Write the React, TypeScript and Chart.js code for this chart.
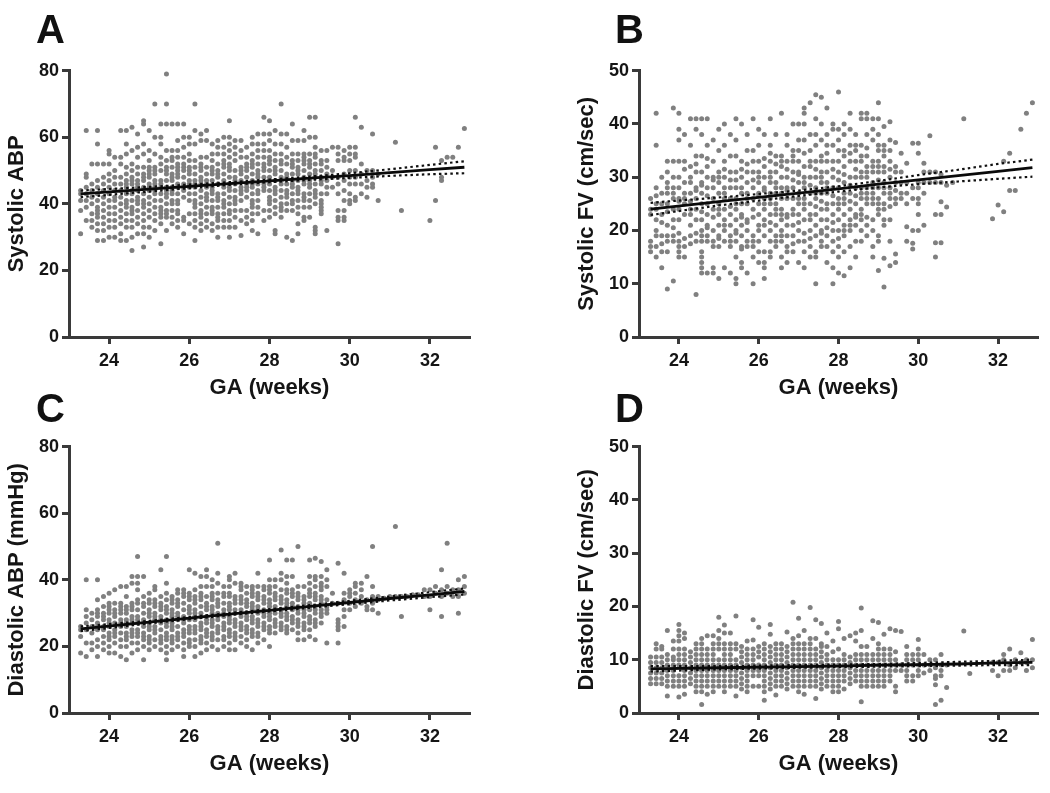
import React, { useEffect, useRef } from "react";
import { Chart, registerables } from "chart.js";

Chart.register(...registerables);

const gaColumns = [23.29,23.43,23.57,23.71,23.86,24,24.14,24.29,24.43,24.57,24.71,24.86,25,25.14,25.29,25.43,25.57,25.71,25.86,26,26.14,26.29,26.43,26.57,26.71,26.86,27,27.14,27.29,27.43,27.57,27.71,27.86,28,28.14,28.29,28.43,28.57,28.71,28.86,29,29.14,29.29,29.43,29.57,29.71,29.86,30,30.14,30.29,30.43,30.57,30.71,30.86,31,31.14,31.29,31.43,31.57,31.71,31.86,32,32.14,32.29,32.43,32.57,32.71,32.86];
const xTickValues = [24, 26, 28, 30, 32];

const sbpColumns = [
[31,38,41,43,44],[35,39,41,43,45,48,49,62],[33,35,37,40,42,44,46,52],[29,32,34,36,37,38,39,41,43,45,47,52,58,62],[29,32,34,36,38,40,42,44,46,48,52],
[30,33,35,37,39,41,43,45,47,49,52,55,56],[30,33,35,37,39,41,42,44,46,48,50,54],[29,31,34,36,38,40,42,44,46,48,52,54,62],[29,33,35,37,39,41,43,45,47,49,51,55,58,62],[26,30,33,35,37,39,41,43,44,46,48,50,52,56,63],
[31,34,36,38,40,42,44,46,47,49,51,54,57,61],[27,31,33,35,37,39,41,43,45,47,49,51,55,58,64,65],[30,33,36,38,40,42,44,46,48,50,51,53,56,62],[32,35,37,39,41,43,45,47,49,51,55,60,70],[28,34,36,38,39,41,43,45,47,50,52,54,58,60,64],
[32,36,38,40,42,44,45,47,49,51,53,56,64,70,79],[34,36,38,40,41,43,45,47,49,51,53,54,56,64],[33,35,37,38,40,43,45,46,48,50,52,54,56,59,64],[31,36,42,44,46,48,50,52,54,57,60,64],[34,37,41,43,45,47,49,51,53,55,58,60],
[29,33,35,37,39,41,43,45,47,49,51,53,58,62,70],[32,34,36,38,40,42,44,46,48,50,52,54,59,61],[33,35,37,39,41,43,45,47,49,51,54,59,62],[32,34,37,39,41,43,45,47,49,51,53,55,58],[30,33,35,37,39,41,43,46,48,50,52,55,57,59],
[33,35,37,39,41,43,45,47,49,51,53,55,57,60],[30,33,35,38,40,42,44,46,48,50,52,54,56,58,60,65],[33,36,38,40,42,44,46,48,50,53,55,57,59],[30.5,35,38,41,43,45,47,49,51,54,56,59],[34,36,38,42,44,46,48,50,52,54,57],
[32,35,37,39,41,43,45,47,49,51,53,55,58,60],[31,37,39,41,44,46,48,50,52,54,56,58,61],[35,38,44,46,48,50,52,54,56,58,61,66],[36,38,40,42,44,46,48,50,52,54,56,59,61,65],[31,32,37,39,41,43,45,47,49,51,53,55,58,62],
[36,38,40,42,44,46,48,50,53,55,58,61,70],[30,38,40,42,44,46,48,52,54,57,61],[29,38,41,43,45,47,49,51,53,55,59,64],[31,34,37,39,41,43,45,47,49,51,53,55,59],[35,36,39,41,43,46,48,50,52,54,55,59,62],
[36,39,41,43,45,47,49,51,53,55,60,66],[31,32,33,40,42,44,46,48,50,52,54,55,57,60,66],[37,38,39,41,43,46,48,50,52,53,56],[32,43,45,47,49,51,53,56],[45,48,50,57],
[28,35,36,38,43,46,48,53,55,57],[35,36,38,41,44,47,49,53,54,56],[40,41,43,46,48,50,53,55,57],[41,42,46,48,50,54,55,57,66],[43,46,49,52,63],
[42,45,47,50],[45,46,48,50,61],[41,49],[],[],[58.5],[38],[],[],[],[],[35],[41,57],[47,48,53],[54],[54],[57],[62.6],
];
const sbpExtra = [
[],[],[],[],[],[],[],[],[40,46],[38,47],
[41,45],[40,48],[45,49],[44,46,50],[37,46],
[37,43,50],[44,48],[41,49,51],[35,45,51],[46,50],
[40,46],[37,47,51],[42,46],[38,44,50],[36,42,49],
[40,46,52],[37,45,51],[41,47],[44,50],[45,51],
[40,46,52],[43,49],[45,51],[41,47,53],[44,50],
[39,47,52],[43,49],[40,46,52],[44,50],[42,47,53],
[46,52],[43,49],[40,47],
];

const fvSysColumns = [
[17,18,23,24,26],[15,17,20,22,24,25,28,36,42],[13,16,19,23,25,27,30],[9,16,18,19,21,25,27,29,31,33],[10.5,18,19,22,24,26,28,30,33,43],
[15,16,17,18,22,24,26,28,30,33,37,39,42],[15,17,23,25,27,29,33,38],[19,21,23,24,27,30,32,36,41],[8,18,22,24,26,28,31,34,39,41],[12,13,14,15,16,18,20,22,25,27,29,31,34,38,41],
[12,18,19,21,23,25,28,30,32,36,41],[12,13,18,20,24,26,28,30,33,37],[11,17,19,21,23,25,27,29,31,35,39],[13,18,20,22,24,26,28,30,33,36,40],[12,17,19,21,23,26,28,31,34,38],
[10,11,15,18,20,22,24,26,28,31,34,37,41],[13,14,17,19,21,23,25,28,30,33,40],[12,17,18,20,22,25,27,29,31,35,38],[10,15,17,19,24,26,28,31,33,41],[14,16,18,21,23,25,27,29,31,33,36,39],
[11,13,14,16,21,22,24,26,28,30,32,38],[15,16,18,20,23,25,27,29,31,33,36,41],[17,19,21,23,25,27,29,31,34,38],[13,15,18,20,22,24,26,28,30,32,34,42],[14,17,19,21,23,26,28,30,33,36,38],
[16,19,21,24,26,28,31,33,35,40],[14,18,20,23,25,27,29,31,33,37,40],[13,16,18,22,24,26,28,30,32,37,40,42,43],[15,17,20,23,25,27,30,32,35,38,44],[10,15,16,19,21,23,26,28,30,33,36,38,41,45.5],
[17,18,20,22,24,27,29,31,34,37,40,45],[14,17,19,22,25,27,29,31,33,36,38,43],[10,13,16,18,20,23,25,28,30,33,36,39,40],[12,15,17,20,22,24,26,28,31,33,37,39,46],[11.5,16,19,21,23,25,27,29,32,35,38,40],
[13,17,20,22,24,27,30,33,36,39,42],[15,18,21,23,25,28,30,33,36,38],[18,20,22,24,26,28,31,34,36,41,42],[19,21,25,26,28,30,32,34,38,41,42],[15,17,20,25,26,27,29,31,33,37,39,41],
[12.5,18,19,24,25,26,28,31,33,35,38,41,44],[9.4,14.8,21,22,25,27,29,32,34,36,39.5],[13.4,18,22,26,28,30,33,35,37,40.4],[14,15.6,26,29,31,36.5],[27,29,31,34.5],
[18,20.7,25,27,29,32.6],[16.5,17.6,20,26,28,36.4],[20,23,25,26,28,29,34.5,36.4],[21,27,29,31,32.6],[29,31,37.8],
[15,17.7,23,29,31],[17.7,23,25.4,29,30.5],[24.4,28.5],[29],[],[41],[],[],[],[],[22.2],[24.8],[23.5,33],[27.5,34.5],[27.5],[39],[42],[44],
];
const fvSysExtra = [
[16],[19,26.5],[17.5,21.5],[23.5,28],[20.5,27],
[19.5,25.5],[18.5,26,31.5],[17.5,25.5,29],[19.5,27.5,32.5],[19,23.5,28.5],
[20.5,26.5,33.5],[17,22.5,29.5],[18.5,24,30],[21,27,31.5],[18,24.5,29.5],
[19.5,25,29.5],[16.5,22.5,27,31.5],[21.5,26,32.5],[18,22.5,29.5,35],[20,26.5,30],
[19,25,27.5,33.5],[21.5,26,30,34.5],[18,24,28,32.5],[19,23,27,33],[16,22.5,27.5,31.5],
[17.5,23,29.5,34],[21.5,26,30.5,35],[19.5,25,29,34.5],[18.5,22,28.5,33],[24.5,27,31.5],
[19.5,25.5,30,33],[20.5,24,28,34.5],[21.5,26.5,31.5],[18.5,25,29.5,35],[20,26,30.5,34],
[21,25.5,28.5,34.5],[22.5,26.5,31.5,35],[23,27,30,33],[22.5,27,31,35.5],[22,28,32],
[23,29.5,32,36],[24,28,31,35],[24.5,27,31.5],[25,27.5,32],[26],
];

const dbpColumns = [
[18,23,25,26],[17,21,25,27,29,31,40],[19,21,24,26,28,30],[17,20,22,25,27,29,31,34,40],[19,21,23,26,28,30,32,35],
[18,20,22,24,26,28,30,32,33,36],[18,21,23,25,27,29,31,33,37],[17,20,22,24,26,28,30,32,33,38],[16,20,22,24,26,28,30,32,35,38],[18,21,23,25,27,29,31,33,39,41],
[19,21,23,25,27,29,31,33,37,39,41,47],[16,20,22,24,26,28,30,32,35,41],[19,21,23,25,27,29,31,33,36],[20,22,24,26,28,30,32,34,37,38],[19,21,23,25,27,29,31,33,35,43],
[16,18,20,22,24,26,28,30,32,34,36,39,47],[19,21,23,25,27,29,31,33,35],[20,22,24,26,28,30,32,34,36,37],[17,19,21,23,25,27,29,31,33,35,37],[20,22,24,26,28,30,32,34,36,43],
[17,20,22,24,26,28,30,31,33,35,37,42],[18,21,23,25,27,29,32,34,36,38,41],[19,21,23,25,27,29,31,33,35,38,41,43],[20,22,24,26,28,30,32,34,36,38,40],[19,22,24,26,28,30,32,34,36,39,42,51],
[20,23,25,27,29,31,33,36,38],[19,21,23,25,27,29,31,33,35,38,40,41],[19,22,24,26,28,31,33,35,39,42],[21,23,25,27,29,31,33,35,37,39],[20,22,24,26,28,30,32,34,36,38],
[19,23,25,27,29,31,33,35,37,38],[21,24,26,28,30,32,34,36,38,42],[22,25,27,29,31,33,35,37,38],[20,24,26,28,30,32,34,36,38,40,46],[24,26,28,30,32,34,36,38,40],
[25,27,29,31,33,35,37,40,42,49],[24,26,28,30,32,34,36,39,41,46],[25,27,29,31,33,35,37,41,46],[22,24,26,28,30,32,34,36,38,50],[22,25,27,29,31,33,35,38],
[23,25,27,29,31,33,35,37,39,41,46],[22,26,28,30,32,34,36,38,40,41,46.5],[27,29,31,33,35,37,39,41,45.5],[21,30,32,34,38,40,43],[33,36],
[21,25,26,27,28,33,45],[26,29,31,34,36,42],[31,33,35,36,37],[32,34,36,38,39],[33,35,37,39],
[31,32,34,41],[31,33,35,38,50],[30,34,35],[34.5],[35],[56,35],[29,35],[35],[35.5],[35.5],[35,37],[31,35,37],[36,38],[29,35,37,43],[36,38,51],[35,37],[30,35,37,40],[36,38,41],
];
const dbpExtra = [
[],[],[],[26,30],[25,29],[23,27,31],[24,30],[27,31],[23,27,31],[24,28,32],
[24,28,34],[23,27,33],[22,26,30,34],[25,29,33],[22,28,32],
[23,27,31],[22,26,30,34],[23,29,33],[24,28,36],[21,25,31,35],
[25,29,34],[22,26,30,35],[24,28,32],[23,27,31,35],[25,29,33],
[22,26,30,35],[24,28,32,36],[23,27,30,34],[26,30,34,38],[25,29,33],
[24,28,32,36],[23,27,31,35],[26,30,34],[25,29,33,37],[27,31,35],
[26,30,34],[25,29,33,37],[28,32,36],[27,31,35],[26,30,34],
[28,32,36],[27,31,35],[30,34,38],[31],
];

const fvDiaColumns = [
[5.5,6.5,7.5,8.5,9.5,10.5],[5.5,6.5,7.5,8.5,9.5,10.5,12,13],[5.5,6.5,7.5,8.5,9.5,10.5,12,12.5],[3.2,5,6,7,8,9,10,11,15.5],[5,6,7,8,9,10,10.5,12,13.5],
[3,5,6,7,9,10,11,12,13.5,14.5,15.5,16.6],[3.5,5,6,7,8,9,10,11,12,14,15],[5.5,6.5,7.5,8.5,9.5,10.5,11.5],[4,5,6,7,8,9,10,11,12,13],[1.6,4,5,6,7,8,9,10,11,12,13,14],
[3.5,5,6,7,8,9,10,11,12,14.5],[4,5,6,7,8,9,10,11,12,13,14.5],[5,6,7,8,9,10,12,13,14,15.5,18],[4,5,6,7,8,9,10,11,12,13,15,16.5],[5,6,7,8,9,10,11,12,13,15],
[3.2,5,6,7,8,9,10,12,13,18.2],[4.5,5.5,6.5,7.5,8.5,9.5,10.5,11.5,12.5],[4,5,6,7,8,9,10,11,12,13.5],[5,7,8,9,10,11,12,13.7,17.5],[5,7,8,9,10.5,11.5,12.5,16.1],
[2.4,4,5,6,7,8,9,10,11,12,13],[4.5,5.5,6.5,7.5,8.5,9.5,10.5,11.5,12.5,14.8,16.6],[3.4,5,6,7,8,9,10,11,12,13],[5,6,7,8,9,10,11,12,13],[4.5,5.5,6.5,7.5,8.5,9.5,10.5,11.5,12.5,15.2],
[5,6,7,8,9,10,11,12,13,14,20.8],[4,5,6,7,8,9,10,11,12,13,14.5,17.8],[3.5,5,6,7,8,9,10,11,12,13,15.5],[5,6,7,8,9,10,11,12,13,14,19.8],[2.7,5,6,7,8,9,10,11,12,14,17.5],
[4.5,5.5,6.5,7.5,8.5,9.5,10.5,11.5,12.5,13,16.8],[5,6,7,8,9,10,11,12.5,15],[4,5,6,7,8,9,10,11.5,13.5],[4,5,6,7,8,9,10,12,15.8,17.2],[4.5,6,7,8,9,10,11,14],
[5.5,6.5,7.5,8.5,9.5,10.5,14.5],[6,7,8,9,10,11,13.5,15],[2.1,5,6,7,8,9,10,11,12.5,15.5,19.7],[5,6,7,8,9,10,11,12.5],[5,6,7,8,9,10,11,14,17.3],
[5,6,7,8,9,10,11,12,13,17],[5,6,7,8,9,10,11,12,14.8],[6,7,8,9,10,11,12,15.8],[4,5,8,9,10,11.5,15.5],[8,9,15.3],
[6,7,8,9,10,11,12.5],[6,7,9,10,11],[7,8,9,10,11,12,13.8],[7.5,9,11],[8,9,10],
[1.6,5.3,6.5,7,8.5,10],[2.4,7,8,9,11],[4.8,9],[],[],[15.4],[7.4],[],[],[],[8,9.5],[7,9.5],[8,10,11],[8,9,12],[8.5,10],[11.3,9.5],[8,9.5,10],[13.8,8.5,10],
];
const fvDiaExtra: number[][] = [];

const fitX = [23.29, 25, 27, 28, 29, 30, 31, 32, 32.86];

const sbpFit = [43, 44.4, 46.1, 46.9, 47.7, 48.5, 49.4, 50.3, 51];
const sbpUpper = [44, 45.1, 46.5, 47.3, 48.2, 49.2, 50.4, 51.7, 52.8];
const sbpLower = [42, 43.7, 45.7, 46.5, 47.2, 47.8, 48.4, 48.9, 49.2];

const fvSysFit = [24, 25.4, 27, 27.8, 28.7, 29.5, 30.3, 31.1, 31.8];
const fvSysUpper = [25.2, 26.2, 27.5, 28.3, 29.3, 30.4, 31.4, 32.5, 33.3];
const fvSysLower = [22.9, 24.7, 26.5, 27.3, 28.1, 28.7, 29.2, 29.7, 30.1];

const dbpFit = [25.3, 27.3, 29.7, 30.8, 32, 33.2, 34.4, 35.5, 36.5];
const dbpUpper = [26, 27.7, 30, 31.2, 32.4, 33.7, 35, 36.3, 37.4];
const dbpLower = [24.6, 26.9, 29.4, 30.5, 31.6, 32.7, 33.8, 34.8, 35.6];

const fvDiaFit = [8.3, 8.5, 8.7, 8.8, 9, 9.1, 9.2, 9.4, 9.5];
const fvDiaUpper = [8.8, 8.8, 9, 9.1, 9.2, 9.4, 9.6, 9.8, 10];
const fvDiaLower = [7.8, 8.2, 8.5, 8.6, 8.7, 8.8, 8.9, 9, 9];

const panels = [
  { letter: "A", yLabel: "Systolic ABP", yMax: 80, yStep: 20, columns: sbpColumns, extra: sbpExtra, fit: sbpFit, upper: sbpUpper, lower: sbpLower, left: 0, top: 0, padRight: 10, letterX: 36, letterY: 43 },
  { letter: "B", yLabel: "Systolic FV (cm/sec)", yMax: 50, yStep: 10, columns: fvSysColumns, extra: fvSysExtra, fit: fvSysFit, upper: fvSysUpper, lower: fvSysLower, left: 570, top: 0, padRight: 12, letterX: 45, letterY: 43 },
  { letter: "C", yLabel: "Diastolic ABP (mmHg)", yMax: 80, yStep: 20, columns: dbpColumns, extra: dbpExtra, fit: dbpFit, upper: dbpUpper, lower: dbpLower, left: 0, top: 376, padRight: 10, letterX: 36, letterY: 46 },
  { letter: "D", yLabel: "Diastolic FV (cm/sec)", yMax: 50, yStep: 10, columns: fvDiaColumns, extra: fvDiaExtra, fit: fvDiaFit, upper: fvDiaUpper, lower: fvDiaLower, left: 570, top: 376, padRight: 12, letterX: 45, letterY: 46 },
];

const FAMILY = "'Liberation Sans', Arial, sans-serif";
const AXIS = "#3a3a3a";
const TEXT = "#151515";
const DOT = "#808080";

function Panel({ p }: { p: (typeof panels)[number] }) {
  const ref = useRef<HTMLCanvasElement | null>(null);
  useEffect(() => {
    const scatter = p.columns.flatMap((ys: number[], i: number) =>
      ys.concat(p.extra[i] ?? []).map((y) => ({ x: gaColumns[i], y }))
    );
    const linePts = (arr: number[]) => fitX.map((x, i) => ({ x, y: arr[i] }));
    const letterPlugin = {
      id: "panelLetter",
      afterDraw(chart: any) {
        const ctx = chart.ctx;
        ctx.save();
        ctx.font = `bold 40px ${FAMILY}`;
        ctx.fillStyle = "#111";
        ctx.textBaseline = "alphabetic";
        ctx.textAlign = "left";
        ctx.fillText(p.letter, p.letterX, p.letterY);
        ctx.restore();
      },
    };
    const dotted = { showLine: true, pointRadius: 0, borderColor: "#111", borderWidth: 2.2, borderDash: [2.5, 3.2], fill: false };
    const chart = new Chart(ref.current as HTMLCanvasElement, {
      type: "scatter",
      data: {
        datasets: [
          { label: "Fit", data: linePts(p.fit), showLine: true, pointRadius: 0, borderColor: "#0a0a0a", borderWidth: 2.8 },
          { label: "Upper 95% CI", data: linePts(p.upper), ...dotted },
          { label: "Lower 95% CI", data: linePts(p.lower), ...dotted },
          { label: "Measurements", data: scatter, pointRadius: 2.5, pointBorderWidth: 0, pointBackgroundColor: DOT, showLine: false },
        ],
      },
      options: {
        animation: false,
        responsive: false,
        layout: { padding: { top: 70.7, right: p.padRight, left: 0, bottom: 0 } },
        plugins: { legend: { display: false }, tooltip: { enabled: false } },
        scales: {
          x: {
            type: "linear",
            min: 23,
            max: 33,
            afterFit: (s: any) => { s.height = 64; },
            afterBuildTicks: (s: any) => { s.ticks = xTickValues.map((value) => ({ value })); },
            border: { color: AXIS, width: 3 },
            grid: { drawOnChartArea: false, tickLength: 7, tickWidth: 3, tickColor: AXIS },
            ticks: { color: TEXT, padding: 6, maxRotation: 0, autoSkip: false, font: { family: FAMILY, size: 18, weight: "bold" } },
            title: { display: true, text: "GA (weeks)", color: TEXT, padding: { top: 0, bottom: 0 }, font: { family: FAMILY, size: 22, weight: "bold" } },
          },
          y: {
            min: 0,
            max: p.yMax,
            afterFit: (s: any) => { s.width = 69; },
            border: { color: AXIS, width: 3 },
            grid: { drawOnChartArea: false, tickLength: 7, tickWidth: 3, tickColor: AXIS },
            ticks: { stepSize: p.yStep, color: TEXT, padding: 3, font: { family: FAMILY, size: 18, weight: "bold" } },
            title: { display: true, text: p.yLabel, color: TEXT, padding: { top: 3.5, bottom: 0 }, font: { family: FAMILY, size: 22, weight: "bold" } },
          },
        },
      } as any,
      plugins: [letterPlugin],
    } as any);
    return () => chart.destroy();
  }, [p]);
  return (
    <canvas
      ref={ref}
      width={480}
      height={401}
      style={{ position: "absolute", left: p.left, top: p.top, width: 480, height: 401, filter: "blur(0.65px)" }}
    />
  );
}

export default function App() {
  return (
    <div style={{ position: "absolute", left: 0, top: 0, width: 1050, height: 793, overflow: "hidden", background: "#fff" }}>
      {panels.map((p) => (
        <Panel key={p.letter} p={p} />
      ))}
    </div>
  );
}
